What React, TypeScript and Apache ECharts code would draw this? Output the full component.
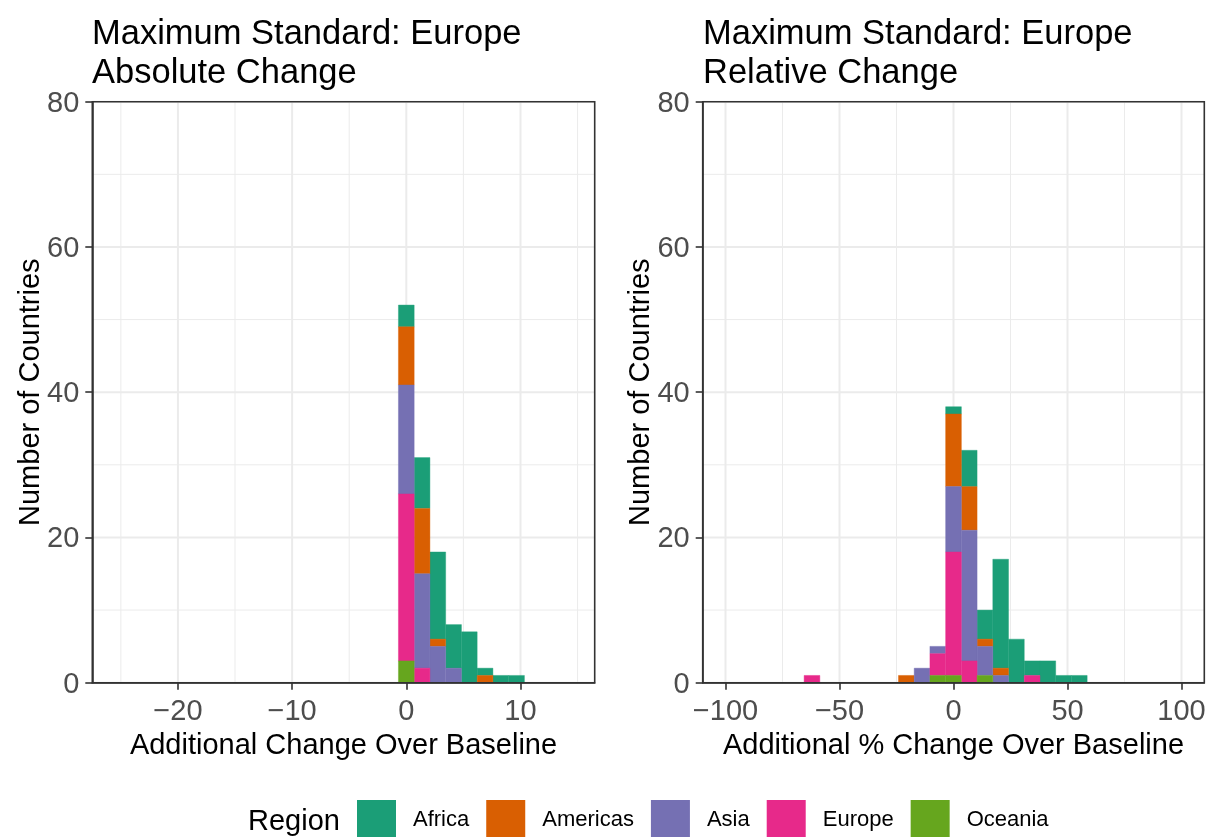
import React, { useEffect, useRef } from 'react';
import * as echarts from 'echarts';

const FONT = '"Liberation Sans", Arial, Helvetica, sans-serif';

const REGIONS = ['Africa', 'Americas', 'Asia', 'Europe', 'Oceania'];
const REGION_COLORS = ['#1B9E77', '#D95F02', '#7570B3', '#E7298A', '#66A61E'];

// Absolute change: bins centred on k * ABS_BIN_WIDTH
const ABS_BIN_WIDTH = 40 / 29;
const absBinIndex = [0, 1, 2, 3, 4, 5, 6, 7];
const absAfrica = [3, 7, 12, 6, 7, 1, 1, 1];
const absAmericas = [8, 9, 1, 0, 0, 1, 0, 0];
const absAsia = [15, 13, 5, 2, 0, 0, 0, 0];
const absEurope = [23, 2, 0, 0, 0, 0, 0, 0];
const absOceania = [3, 0, 0, 0, 0, 0, 0, 0];

// Relative (%) change: bins centred on k * REL_BIN_WIDTH
const REL_BIN_WIDTH = 200 / 29;
const relBinIndex = [-9, -8, -7, -6, -5, -4, -3, -2, -1, 0, 1, 2, 3, 4, 5, 6, 7, 8];
const relAfrica = [0, 0, 0, 0, 0, 0, 0, 0, 0, 1, 5, 4, 15, 6, 2, 3, 1, 1];
const relAmericas = [0, 0, 0, 0, 0, 0, 1, 0, 0, 10, 6, 1, 1, 0, 0, 0, 0, 0];
const relAsia = [0, 0, 0, 0, 0, 0, 0, 2, 1, 9, 18, 4, 1, 0, 0, 0, 0, 0];
const relEurope = [1, 0, 0, 0, 0, 0, 0, 0, 3, 17, 3, 0, 0, 0, 1, 0, 0, 0];
const relOceania = [0, 0, 0, 0, 0, 0, 0, 0, 1, 1, 0, 1, 0, 0, 0, 0, 0, 0];

// Axis breaks
const absMajorX = [-20, -10, 0, 10];
const absMinorX = [-25, -15, -5, 5, 15];
const relMajorX = [-100, -50, 0, 50, 100];
const relMinorX = [-75, -25, 25, 75];
const majorY = [0, 20, 40, 60, 80];
const minorY = [10, 30, 50, 70];

const ABS_RANGE = [-27.5, 16.5];
const REL_RANGE = [-110, 110];

const PANEL_TITLES = [
  'Maximum Standard: Europe\nAbsolute Change',
  'Maximum Standard: Europe\nRelative Change',
];
const X_TITLES = ['Additional Change Over Baseline', 'Additional % Change Over Baseline'];
const Y_TITLE = 'Number of Countries';
const LEGEND_TITLE = 'Region';

// Stack counts per bin: Oceania at the bottom, Africa on top.
function buildStacks(binIndex: number[], width: number, counts: number[][]) {
  const out: number[][][] = counts.map(() => []);
  binIndex.forEach((k, i) => {
    const c = k * width;
    let base = 0;
    for (let r = counts.length - 1; r >= 0; r--) {
      const n = counts[r][i];
      if (n > 0) {
        out[r].push([c - width / 2, c + width / 2, base, base + n]);
        base += n;
      }
    }
  });
  return out;
}

const renderBar = (_params: any, api: any) => {
  const tl = api.coord([api.value(0), api.value(3)]);
  const br = api.coord([api.value(1), api.value(2)]);
  const fill = api.visual('color');
  return {
    type: 'rect',
    shape: { x: tl[0], y: tl[1], width: br[0] - tl[0], height: br[1] - tl[1] },
    style: { fill, stroke: fill, lineWidth: 0.4 },
  };
};

const renderVLine = (params: any, api: any) => {
  const cs = params.coordSys;
  const p = api.coord([api.value(0), 0]);
  return {
    type: 'line',
    shape: { x1: p[0], y1: cs.y, x2: p[0], y2: cs.y + cs.height },
    style: { stroke: '#EBEBEB', lineWidth: api.value(1) ? 2 : 1 },
  };
};

const renderHLine = (params: any, api: any) => {
  const cs = params.coordSys;
  const p = api.coord([0, api.value(1)]);
  return {
    type: 'line',
    shape: { x1: cs.x, y1: p[1], x2: cs.x + cs.width, y2: p[1] },
    style: { stroke: '#EBEBEB', lineWidth: api.value(2) ? 2 : 1 },
  };
};

const minus = (v: number) => String(v).replace('-', '\u2212');

export default function App() {
  const ref = useRef<HTMLDivElement>(null);

  useEffect(() => {
    if (!ref.current) return;
    const chart = echarts.init(ref.current, undefined, { renderer: 'svg' });

    const panels = [
      {
        stacks: buildStacks(absBinIndex, ABS_BIN_WIDTH, [absAfrica, absAmericas, absAsia, absEurope, absOceania]),
        major: absMajorX,
        minor: absMinorX,
        range: ABS_RANGE,
      },
      {
        stacks: buildStacks(relBinIndex, REL_BIN_WIDTH, [relAfrica, relAmericas, relAsia, relEurope, relOceania]),
        major: relMajorX,
        minor: relMinorX,
        range: REL_RANGE,
      },
    ];

    const grids = [
      { left: 92.3, top: 101.7, width: 502.4, height: 581 },
      { left: 702.7, top: 101.7, width: 501.6, height: 581 },
    ];

    const axisLineStyle = { color: '#333333', width: 1.6 };
    const series: any[] = [];
    panels.forEach((p, pi) => {
      series.push({
        type: 'custom',
        name: 'gridX' + pi,
        xAxisIndex: pi,
        yAxisIndex: pi,
        silent: true,
        z: 1,
        encode: { x: 0, y: 1 },
        renderItem: renderVLine,
        data: [...p.minor.map((v) => [v, 0]), ...p.major.map((v) => [v, 1])],
      });
      series.push({
        type: 'custom',
        name: 'gridY' + pi,
        xAxisIndex: pi,
        yAxisIndex: pi,
        silent: true,
        z: 1,
        encode: { x: 0, y: 1 },
        renderItem: renderHLine,
        data: [...minorY.map((v) => [0, v, 0]), ...majorY.map((v) => [0, v, 1])],
      });
      REGIONS.forEach((name, r) => {
        series.push({
          type: 'custom',
          name,
          xAxisIndex: pi,
          yAxisIndex: pi,
          z: 2,
          itemStyle: { color: REGION_COLORS[r] },
          encode: { x: [0, 1], y: [2, 3] },
          renderItem: renderBar,
          data: p.stacks[r],
        });
      });
    });

    chart.setOption({
      animation: false,
      textStyle: { fontFamily: FONT },
      title: PANEL_TITLES.map((text, i) => ({
        text,
        left: i === 0 ? 92 : 703,
        top: 12,
        padding: 0,
        textStyle: { fontSize: 34.5, fontWeight: 'normal', color: '#000000', lineHeight: 39, fontFamily: FONT },
      })),
      grid: grids.map((g) => ({
        ...g,
        show: true,
        z: 5,
        backgroundColor: 'transparent',
        borderColor: '#333333',
        borderWidth: 1.6,
      })),
      xAxis: panels.map((p, i) => ({
        type: 'value',
        gridIndex: i,
        min: p.range[0],
        max: p.range[1],
        z: 10,
        splitLine: { show: false },
        axisLine: { show: true, onZero: false, lineStyle: axisLineStyle },
        axisTick: { show: true, length: 7, customValues: p.major, lineStyle: axisLineStyle },
        axisLabel: {
          customValues: p.major,
          fontSize: 29,
          color: '#4D4D4D',
          margin: 13,
          fontFamily: FONT,
          formatter: (v: number) => minus(v),
        },
        name: X_TITLES[i],
        nameLocation: 'middle',
        nameGap: 44,
        nameTextStyle: { fontSize: 29, color: '#000000', fontFamily: FONT },
      })),
      yAxis: panels.map((_p, i) => ({
        type: 'value',
        gridIndex: i,
        min: 0,
        max: 80,
        interval: 20,
        z: 10,
        splitLine: { show: false },
        axisLine: { show: true, onZero: false, lineStyle: axisLineStyle },
        axisTick: { show: true, length: 7, lineStyle: axisLineStyle },
        axisLabel: { fontSize: 29, color: '#4D4D4D', margin: 13, fontFamily: FONT },
        name: Y_TITLE,
        nameLocation: 'middle',
        nameGap: 48,
        nameRotate: 90,
        nameTextStyle: { fontSize: 29, color: '#000000', fontFamily: FONT },
      })),
      legend: {
        data: REGIONS,
        left: 357,
        top: 800,
        padding: 0,
        orient: 'horizontal',
        icon: 'rect',
        itemWidth: 39,
        itemHeight: 37,
        itemGap: 17,
        selectedMode: false,
        textStyle: { fontSize: 22, color: '#000000', fontFamily: FONT, padding: [0, 0, 0, 12] },
      },
      graphic: [
        {
          type: 'text',
          x: 248,
          y: 820,
          style: { text: LEGEND_TITLE, fontSize: 29, fontFamily: FONT, fill: '#000000', verticalAlign: 'middle' },
        },
      ],
      series,
    });

    return () => chart.dispose();
  }, []);

  return <div ref={ref} style={{ position: 'fixed', left: 0, top: 0, width: 1209, height: 837 }} />;
}
